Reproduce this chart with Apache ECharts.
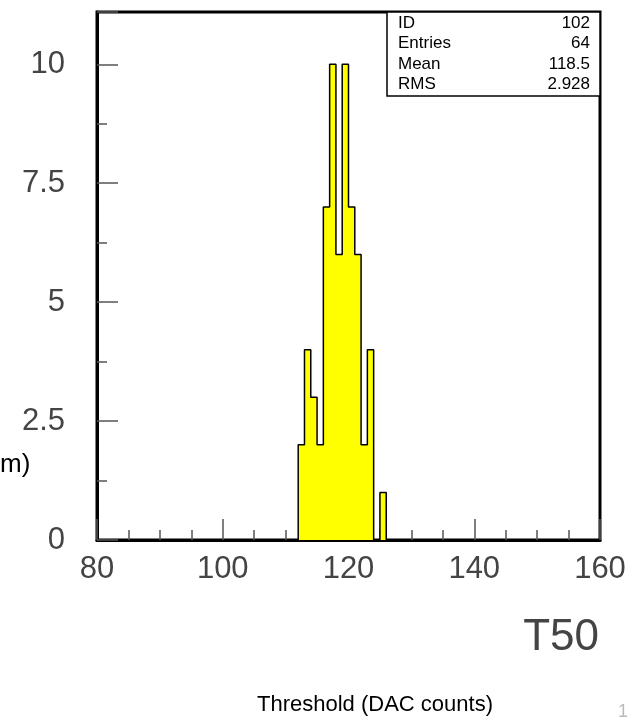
<!DOCTYPE html>
<html>
<head>
<meta charset="utf-8">
<title>T50</title>
<script src="https://cdn.jsdelivr.net/npm/echarts@6/dist/echarts.min.js"></script>
<style>
  html, body { margin: 0; padding: 0; background: #fff; }
  #chart { width: 631px; height: 724px; }
</style>
</head>
<body>
<div id="chart"></div>
<script>
// histogram bins, lower edge of each bin (bin width 1)
const binLowEdges = [112, 113, 114, 115, 116, 117, 118, 119, 120, 121, 122, 123, 124, 125]
const binCounts = [2, 4, 3, 2, 7, 10, 6, 10, 7, 6, 2, 4, 0, 1]
const binWidth = 1

const xTicks = [80, 100, 120, 140, 160]
const yTicks = [0, 2.5, 5, 7.5, 10]

const statsLabels = ['ID', 'Entries', 'Mean', 'RMS']
const statsValues = ['102', '64', '118.5', '2.928']

const labelFont = 'Liberation Sans'

// outline of the histogram as step points
const stepPoints = [[binLowEdges[0], 0]]
binLowEdges.forEach((x, i) => stepPoints.push([x, binCounts[i]]))
stepPoints.push([binLowEdges[binLowEdges.length - 1] + binWidth, 0])

const chart = echarts.init(document.getElementById('chart'))

const statsGraphics = [{
  type: 'rect',
  shape: { x: 387, y: 12, width: 213, height: 84 },
  style: { fill: '#fff', stroke: '#000', lineWidth: 1.5 },
  z: 10
}]
statsLabels.forEach((name, i) => {
  const y = 23 + i * 20.5
  statsGraphics.push({
    type: 'text', x: 398, y: y, z: 11,
    style: { text: name, font: '17px ' + labelFont, fill: '#000', textVerticalAlign: 'middle' }
  })
  statsGraphics.push({
    type: 'text', x: 590, y: y, z: 11,
    style: { text: statsValues[i], font: '17px ' + labelFont, fill: '#000', textAlign: 'right', textVerticalAlign: 'middle' }
  })
})

const option = {
  animation: false,
  grid: {
    left: 97, right: 31, top: 12, bottom: 184,
    show: true, borderColor: '#000', borderWidth: 3
  },
  xAxis: {
    type: 'value',
    min: xTicks[0],
    max: xTicks[xTicks.length - 1],
    interval: 20,
    axisLine: { lineStyle: { color: '#000', width: 3 } },
    axisTick: { inside: true, length: 21, lineStyle: { color: '#555', width: 1.5 } },
    minorTick: { show: true, splitNumber: 4, length: 10, lineStyle: { color: '#555', width: 1.5 } },
    splitLine: { show: false },
    axisLabel: { fontSize: 31, color: '#444', margin: 14, fontFamily: labelFont }
  },
  yAxis: [{
    type: 'value',
    min: 0,
    max: 11.1,
    interval: 2.5,
    axisLine: { show: true, lineStyle: { color: '#000', width: 3 } },
    axisTick: { show: true, inside: true, length: 21, lineStyle: { color: '#555', width: 1.5 } },
    splitLine: { show: false },
    axisLabel: {
      fontSize: 31, color: '#444', margin: 32, fontFamily: labelFont,
      formatter: v => yTicks.includes(v) ? String(v) : ''
    }
  }, {
    // minor ticks only
    type: 'value',
    min: 0,
    max: 11.1,
    interval: 1.25,
    position: 'left',
    axisLine: { show: false },
    axisTick: { show: true, inside: true, length: 10, lineStyle: { color: '#555', width: 1.5 } },
    splitLine: { show: false },
    axisLabel: { show: false }
  }],
  series: [{
    type: 'line',
    step: 'end',
    data: stepPoints,
    showSymbol: false,
    lineStyle: { color: '#000', width: 1.5 },
    areaStyle: { color: '#ffff00', opacity: 1 },
    z: 3
  }],
  graphic: statsGraphics.concat([
    {
      type: 'text', x: 0, y: 465,
      style: { text: 'm)', font: '26px ' + labelFont, fill: '#000', textVerticalAlign: 'middle' }
    },
    {
      type: 'text', x: 599, y: 638,
      style: { text: 'T50', font: '44px ' + labelFont, fill: '#444', textAlign: 'right', textVerticalAlign: 'middle' }
    },
    {
      type: 'text', x: 375, y: 705,
      style: { text: 'Threshold (DAC counts)', font: '22px ' + labelFont, fill: '#000', textAlign: 'center', textVerticalAlign: 'middle' }
    },
    {
      type: 'text', x: 618, y: 712,
      style: { text: '1', font: '18px ' + labelFont, fill: '#bbb', textVerticalAlign: 'middle' }
    }
  ])
}

chart.setOption(option)
window.addEventListener('resize', () => chart.resize())
</script>
</body>
</html>
